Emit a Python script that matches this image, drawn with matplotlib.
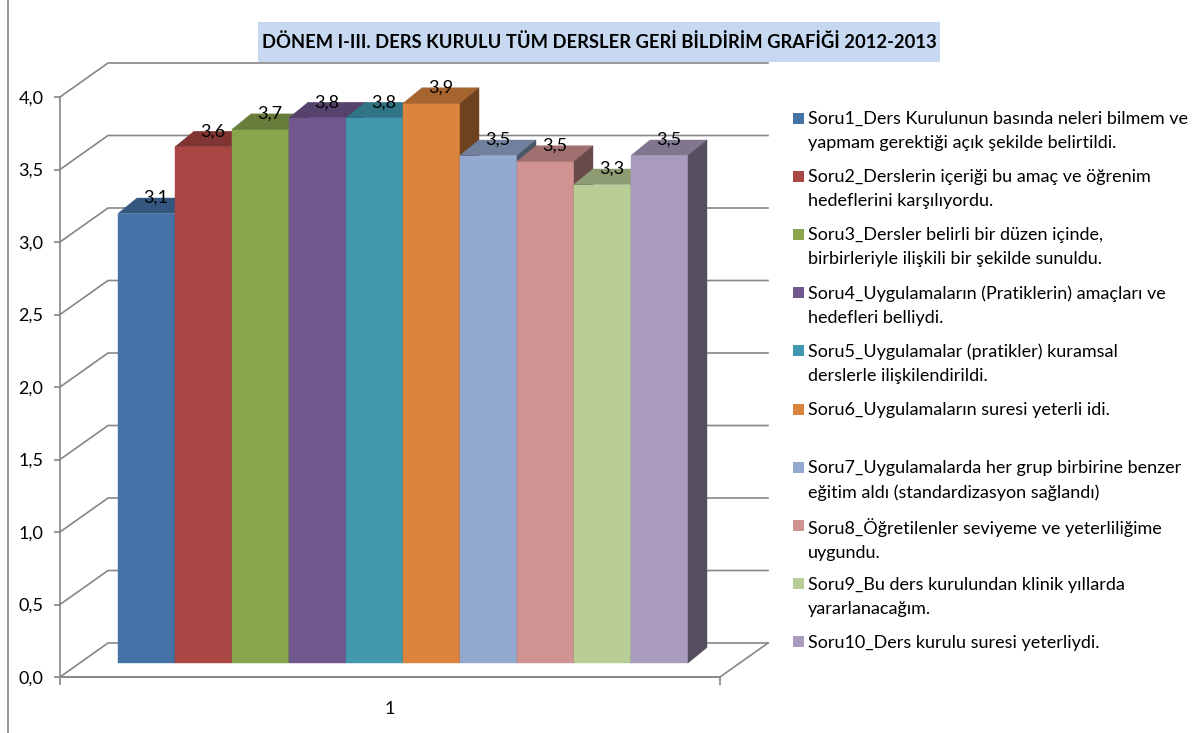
import matplotlib
matplotlib.use('Agg')
import matplotlib.pyplot as plt
import matplotlib.colors as mcolors
from matplotlib.patches import Polygon, Rectangle
from matplotlib.lines import Line2D
from matplotlib.ticker import FuncFormatter, FixedLocator

plt.rcParams['font.family'] = ['Lato', 'DejaVu Sans']

title = 'DÖNEM I-III. DERS KURULU TÜM DERSLER GERİ BİLDİRİM GRAFİĞİ 2012-2013'
questions = [
    'Soru1_Ders Kurulunun basında neleri bilmem ve\nyapmam gerektiği açık şekilde belirtildi.',
    'Soru2_Derslerin içeriği bu amaç ve öğrenim\nhedeflerini karşılıyordu.',
    'Soru3_Dersler belirli bir düzen içinde,\nbirbirleriyle ilişkili bir şekilde sunuldu.',
    'Soru4_Uygulamaların (Pratiklerin) amaçları ve\nhedefleri belliydi.',
    'Soru5_Uygulamalar (pratikler) kuramsal\nderslerle ilişkilendirildi.',
    'Soru6_Uygulamaların suresi yeterli idi.',
    'Soru7_Uygulamalarda her grup birbirine benzer\neğitim aldı (standardizasyon sağlandı)',
    'Soru8_Öğretilenler seviyeme ve yeterliliğime\nuygundu.',
    'Soru9_Bu ders kurulundan klinik yıllarda\nyararlanacağım.',
    'Soru10_Ders kurulu suresi yeterliydi.',
]
values = [3.10, 3.56, 3.68, 3.76, 3.76, 3.86, 3.50, 3.46, 3.30, 3.50]
colors = ['#4572A7', '#AA4643', '#89A54E', '#71588F', '#4198AF',
          '#DB843D', '#93A9CF', '#D19392', '#B9CD96', '#A99BBD']
category = '1'
yticks = [0.0, 0.5, 1.0, 1.5, 2.0, 2.5, 3.0, 3.5, 4.0]

W, H = 1198, 733
grid = '#868686'
FS = 13

# fake 3d geometry (axes units: 1 bar per x unit, value units on y)
PXX, PXY = 57.0, 145.0
DX, DY = 48 / PXX, 34 / PXY          # wall depth
FLOOR_W = 660 / PXX
BAR_X0, BAR_Y0 = 58 / PXX, 14 / PXY  # front face of the bars
BDX, BDY = 19 / PXX, 15.5 / PXY      # bar depth


def shade(c, f):
    r, g, b = mcolors.to_rgb(c)
    return (r * f, g * f, b * f)


fig = plt.figure(figsize=(W / 100, H / 100), dpi=100)
ax = fig.add_axes([0, 0, 1, 1])
ax.set_xlim(-60 / PXX, (W - 60) / PXX)
ax.set_ylim(-(H - 677) / PXY, 677 / PXY)
ax.patch.set_visible(False)

# walls / floor
for v in yticks:
    ax.plot([0, DX, DX + FLOOR_W], [v, v + DY, v + DY], color=grid, lw=1.2, zorder=1)
ax.plot([0, FLOOR_W, FLOOR_W + DX], [0, 0, DY], color=grid, lw=1.2, zorder=1)

ax.spines[['top', 'right']].set_visible(False)
ax.spines['left'].set_position(('data', 0))
ax.spines['left'].set_bounds(0, 4)
ax.spines['bottom'].set_position(('data', 0))
ax.spines['bottom'].set_bounds(0, FLOOR_W)
for s in ('left', 'bottom'):
    ax.spines[s].set_color(grid)
    ax.spines[s].set_linewidth(1.2)
ax.set_yticks(yticks)
ax.yaxis.set_major_formatter(FuncFormatter(lambda v, p: f'{v:.1f}'.replace('.', ',')))
ax.tick_params(axis='y', direction='out', length=4, width=1.2, color=grid,
               labelsize=FS, pad=8)
ax.set_xticks([0, FLOOR_W])
ax.set_xticklabels(['', ''])
ax.xaxis.set_minor_locator(FixedLocator([FLOOR_W / 2]))
ax.xaxis.set_minor_formatter(FuncFormatter(lambda v, p: category))
ax.tick_params(axis='x', which='major', direction='out', length=6, width=1.2, color=grid)
ax.tick_params(axis='x', which='minor', length=0, labelsize=FS, pad=17)

# bars
for i, (v, c) in enumerate(zip(values, colors)):
    left = BAR_X0 + i
    z = 3 + 3 * i
    ax.bar(left, v, width=1, bottom=BAR_Y0, align='edge', color=c,
           edgecolor=c, lw=0.3, zorder=z)
    top = [(left, BAR_Y0 + v), (left + 1, BAR_Y0 + v),
           (left + 1 + BDX, BAR_Y0 + v + BDY), (left + BDX, BAR_Y0 + v + BDY)]
    side = [(left + 1, BAR_Y0), (left + 1 + BDX, BAR_Y0 + BDY),
            (left + 1 + BDX, BAR_Y0 + v + BDY), (left + 1, BAR_Y0 + v)]
    ax.add_patch(Polygon(top, closed=True, fc=shade(c, 0.76), ec=shade(c, 0.76), lw=0.3, zorder=z + 1))
    ax.add_patch(Polygon(side, closed=True, fc=shade(c, 0.5), ec=shade(c, 0.5), lw=0.3, zorder=z + 2))
    ax.text(left + 0.5 + BDX / 2, BAR_Y0 + v + BDY, f'{v:.1f}'.replace('.', ','),
            ha='center', va='center', fontsize=FS, zorder=100)

# title
fig.add_artist(Rectangle((258 / W, 1 - 62 / H), 682 / W, 40 / H,
                         transform=fig.transFigure, fc='#C6D9F1', ec='none'))
fig.text(599 / W, 1 - 42 / H, title, ha='center', va='center',
         fontsize=13.2, fontweight='bold')

# chart border
fig.add_artist(Line2D([8 / W, 8 / W], [0, 1], color=grid, lw=1.2))

# legend
for i, (q, c) in enumerate(zip(questions, colors)):
    yc = 118 + i * 58.2
    fig.add_artist(Rectangle((793 / W, 1 - (yc + 5.5) / H), 11 / W, 11 / H,
                             transform=fig.transFigure, fc=c, ec='none'))
    fig.text(808 / W, 1 - (yc - 7) / H, q, ha='left', va='top',
             fontsize=FS, linespacing=1.62)

fig.savefig('out.png', dpi=100)
